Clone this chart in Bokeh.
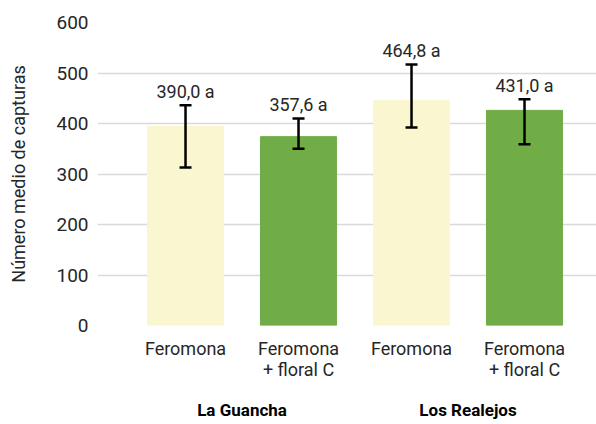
from bokeh.plotting import figure
from bokeh.models import ColumnDataSource, Range1d, FixedTicker, LinearAxis
from bokeh.core.properties import value
from bokeh.embed import file_html
from bokeh.resources import INLINE

# ---- data ----
categories = ["Feromona", "Feromona\n+ floral C", "Feromona", "Feromona\n+ floral C"]
groups = ["La Guancha", "Los Realejos"]
means = [394, 374, 446, 426]            # bar heights as drawn
err_low = [313, 350, 392, 359]
err_high = [436, 410, 517, 448]
value_labels = ["390,0 a", "357,6 a", "464,8 a", "431,0 a"]
bar_colors = ["#FAF7D0", "#70AD47", "#FAF7D0", "#70AD47"]
y_ticks = [0, 100, 200, 300, 400, 500, 600]

FONT = "Roboto"
TXT = "#262626"

pos = list(range(len(categories)))
group_pos = [(pos[0] + pos[1]) / 2, (pos[2] + pos[3]) / 2]

src = ColumnDataSource(dict(x=pos, top=means, lo=err_low, hi=err_high,
                            lab=value_labels, color=bar_colors))

p = figure(width=596, height=424, output_backend="svg", toolbar_location=None,
           x_range=Range1d(-0.779, 3.637), y_range=Range1d(0, 600),
           min_border_left=97, min_border_right=0, min_border_top=22,
           min_border_bottom=99)
p.outline_line_color = None
p.background_fill_color = "white"
p.border_fill_color = "white"

p.vbar(x="x", top="top", width=0.673, color="color", source=src)

# error bars
p.segment(x0="x", y0="lo", x1="x", y1="hi", source=src, line_color="black",
          line_width=2.5)
p.dash(x="x", y="hi", size=12, line_width=2.5, line_color="black", source=src)
p.dash(x="x", y="lo", size=12, line_width=2.5, line_color="black", source=src)

p.text(x="x", y="hi", text="lab", source=src, text_align="center",
       text_baseline="bottom", y_offset=-3,
       text_font=value(FONT), text_font_size="18px", text_color=TXT)

# y axis
p.yaxis.ticker = FixedTicker(ticks=y_ticks)
p.yaxis.axis_line_color = None
p.yaxis.major_tick_line_color = None
p.yaxis.minor_tick_line_color = None
p.yaxis.major_tick_out = 0
p.yaxis.major_tick_in = 0
p.yaxis.major_label_standoff = 9
p.yaxis.major_label_text_font = FONT
p.yaxis.major_label_text_font_size = "19px"
p.yaxis.major_label_text_color = TXT
p.yaxis.axis_label = "Número medio de capturas"
p.yaxis.axis_label_text_font = FONT
p.yaxis.axis_label_text_font_size = "18px"
p.yaxis.axis_label_text_font_style = "normal"
p.yaxis.axis_label_text_color = TXT
p.yaxis.axis_label_standoff = 24

# grid
p.xgrid.grid_line_color = None
p.ygrid.ticker = FixedTicker(ticks=y_ticks)
p.ygrid.grid_line_color = "#d9d9d9"
p.ygrid.grid_line_width = 1.5

# x axis (categories)
xa = p.xaxis[0]
xa.ticker = FixedTicker(ticks=pos)
xa.major_label_overrides = {i: c for i, c in zip(pos, categories)}
xa.axis_line_color = None
xa.major_tick_line_color = None
xa.minor_tick_line_color = None
xa.major_tick_out = 0
xa.major_tick_in = 0
xa.major_label_standoff = 12
xa.major_label_text_font = FONT
xa.major_label_text_font_size = "18px"
xa.major_label_text_color = TXT
xa.major_label_text_line_height = 1.0

# group axis
ga = LinearAxis(ticker=FixedTicker(ticks=group_pos),
                major_label_overrides={g: n for g, n in zip(group_pos, groups)})
ga.axis_line_color = None
ga.major_tick_line_color = None
ga.minor_tick_line_color = None
ga.major_tick_out = 0
ga.major_tick_in = 0
ga.major_label_standoff = 17
ga.major_label_text_font = FONT
ga.major_label_text_font_size = "17px"
ga.major_label_text_font_style = "bold"
ga.major_label_text_color = "black"
p.add_layout(ga, "below")

open("out.html", "w").write(file_html(p, INLINE))
